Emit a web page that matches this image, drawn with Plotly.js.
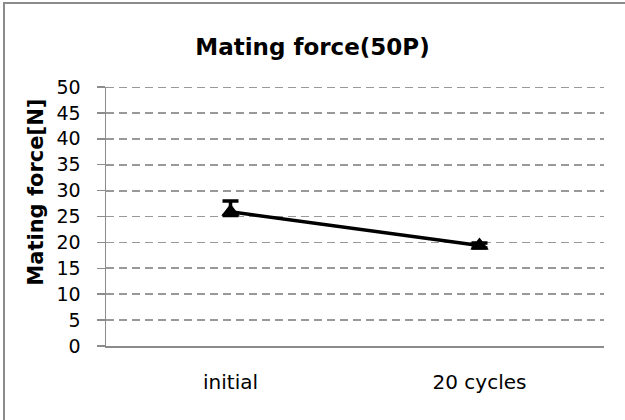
<!DOCTYPE html>
<html>
<head>
<meta charset="utf-8">
<script src="https://cdn.plot.ly/plotly-3.0.1.min.js"></script>
<style>
html,body{margin:0;padding:0;background:#fff;}
#wrap{position:relative;width:625px;height:420px;overflow:hidden;}
#frame{position:absolute;left:3px;top:2px;width:640px;height:440px;border:2px solid #8c8c8c;box-sizing:border-box;pointer-events:none;z-index:5;}
#chart{position:absolute;left:0;top:0;width:625px;height:420px;}
</style>
</head>
<body>
<div id="wrap"><div id="chart"></div><div id="frame"></div></div>
<script>
const categories = ["initial", "20 cycles"];
const force = [25.9, 19.4];
const errPlus = [2.1, 0.5];
const errMinus = [0.7, 0.5];
const yTicks = [0,5,10,15,20,25,30,35,40,45,50];

const font = "DejaVu Sans, Verdana, sans-serif";
const yMax = yTicks[yTicks.length - 1];

Plotly.newPlot("chart", [{
  x: categories,
  y: force,
  type: "scatter",
  mode: "lines+markers",
  line: {color: "#000", width: 3.5},
  marker: {symbol: "triangle-up", size: 16, color: "#000"},
  error_y: {type: "data", symmetric: false, array: errPlus, arrayminus: errMinus,
            color: "#000", thickness: 3.5, width: 8},
  showlegend: false,
  hoverinfo: "skip"
}], {
  width: 625, height: 420,
  margin: {l: 106, r: 21, t: 87, b: 74},
  paper_bgcolor: "#fff", plot_bgcolor: "#fff",
  font: {family: font, color: "#000", size: 18},
  title: {text: "<b>Mating force(50P)</b>", font: {family: font, size: 23, color: "#000"},
          x: 0.5, xanchor: "center", y: 0.888, yanchor: "middle"},
  xaxis: {
    type: "category", range: [-0.5, 1.5],
    showline: true, linecolor: "#8c8c8c", linewidth: 1.5,
    ticks: "", showgrid: false, zeroline: false,
    tickfont: {family: font, size: 20, color: "#000"},
    ticklabelstandoff: 17, fixedrange: true
  },
  yaxis: {
    range: [0, yMax], tickvals: yTicks, ticktext: yTicks.map(String),
    showline: true, linecolor: "#8c8c8c", linewidth: 1.5,
    ticks: "outside", ticklen: 8, tickcolor: "#8c8c8c", tickwidth: 1.5,
    showgrid: true, gridcolor: "#999", griddash: "8px,5px", gridwidth: 1.8,
    zeroline: false,
    tickfont: {family: font, size: 19, color: "#000"},
    ticklabelstandoff: 12,
    fixedrange: true
  },
  shapes: [{
    type: "line", xref: "paper", x0: 0, x1: 1, yref: "y", y0: yMax, y1: yMax,
    line: {color: "#999", width: 1.8, dash: "8px,5px"}, layer: "below"
  }],
  annotations: [{
    text: "<b>Mating force[N]</b>", textangle: -90,
    xref: "paper", yref: "paper", x: -0.141, y: 0.595,
    xanchor: "center", yanchor: "middle", showarrow: false,
    font: {family: font, size: 21, color: "#000"}
  }]
}, {displayModeBar: false, staticPlot: true});
</script>
</body>
</html>
